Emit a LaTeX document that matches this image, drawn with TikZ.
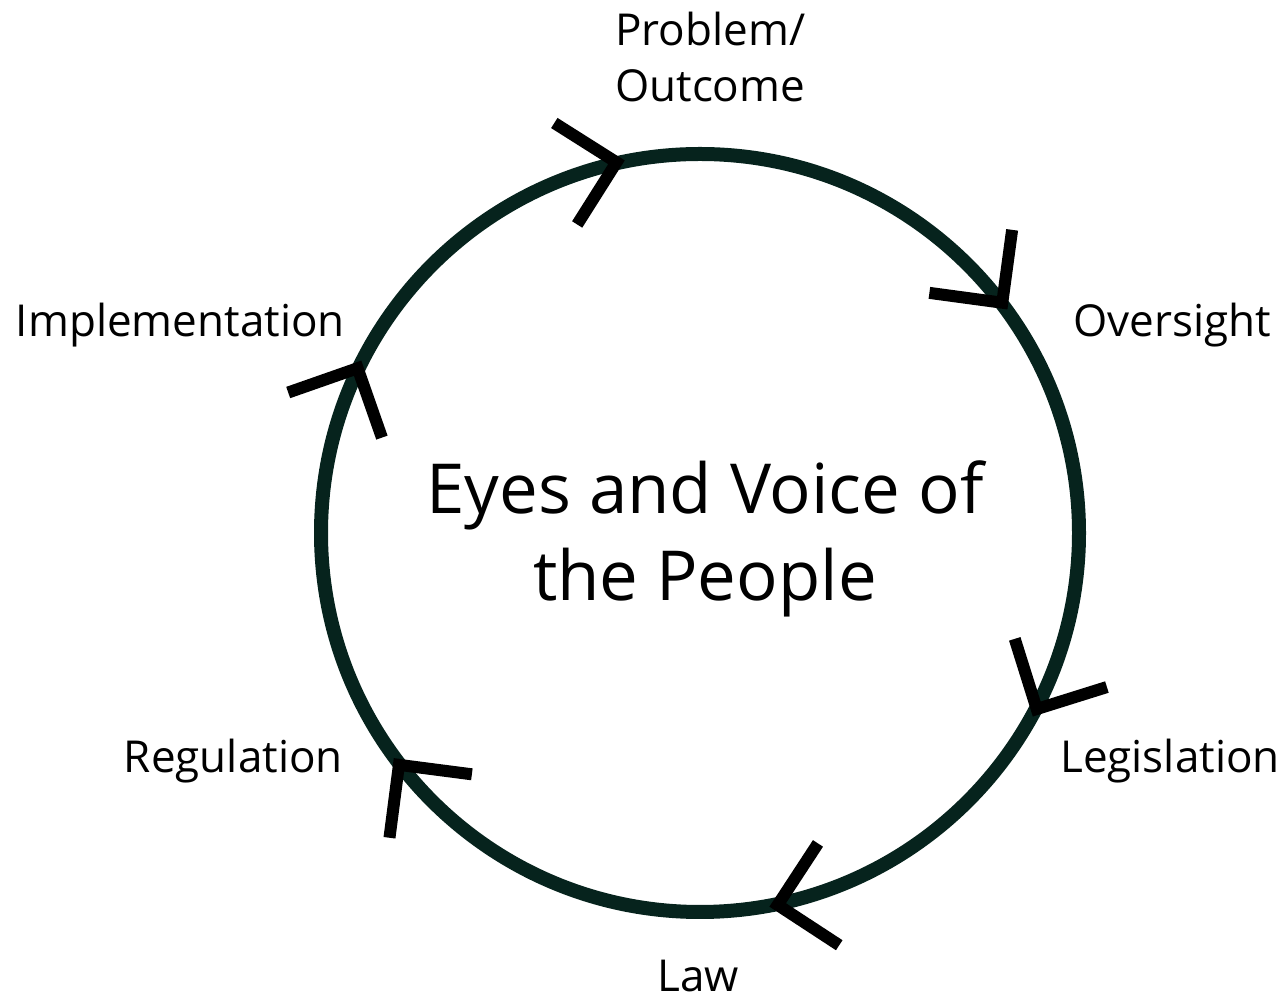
\documentclass[tikz,border=0pt]{standalone}
\usepackage{fontspec}
\setmainfont{Open Sans}
\usetikzlibrary{calc}
\definecolor{ringgreen}{RGB}{6,35,29}
\begin{document}
\begin{tikzpicture}[x=1pt,y=1pt]
% styles of the nodes
\tikzstyle{stage} = [inner sep=0pt, font=\fontsize{44}{56}\selectfont]
\tikzstyle{core} = [inner sep=0pt, align=center, font=\fontsize{69}{87}\selectfont]
% styles of the lines
\tikzstyle{ring} = [draw=ringgreen, line width=14pt]
\tikzstyle{chevron} = [draw=black, line width=12pt]

\useasboundingbox (0,0) rectangle (1288,1001);
\coordinate (centre) at (700,468);

%% the cycle
\draw[ring] (centre) circle[radius=379];
\foreach \a in {102.7,37.3,-27.6,-78.2,-142.4,154.3}{
  \coordinate (tip) at ($(centre)+(\a:380)$);
  \draw[chevron, shift={(tip)}, rotate=\a-90] (-52,52) -- (0,0) -- (-52,-52);
}

%% placement of the nodes
\node[core] (people) at (705,462) {Eyes and Voice of\\the People};
\node[stage, align=left, anchor=west] (problem) at (615,944) {Problem/\\Outcome};
\node[stage, anchor=base west] (oversight) at (1073,664) {Oversight};
\node[stage, anchor=base west] (legislation) at (1060,228) {Legislation};
\node[stage, anchor=base] (law) at (698,9) {Law};
\node[stage, anchor=base east] (regulation) at (343,228) {Regulation};
\node[stage, anchor=base east] (implementation) at (345,664) {Implementation};
\end{tikzpicture}
\end{document}
